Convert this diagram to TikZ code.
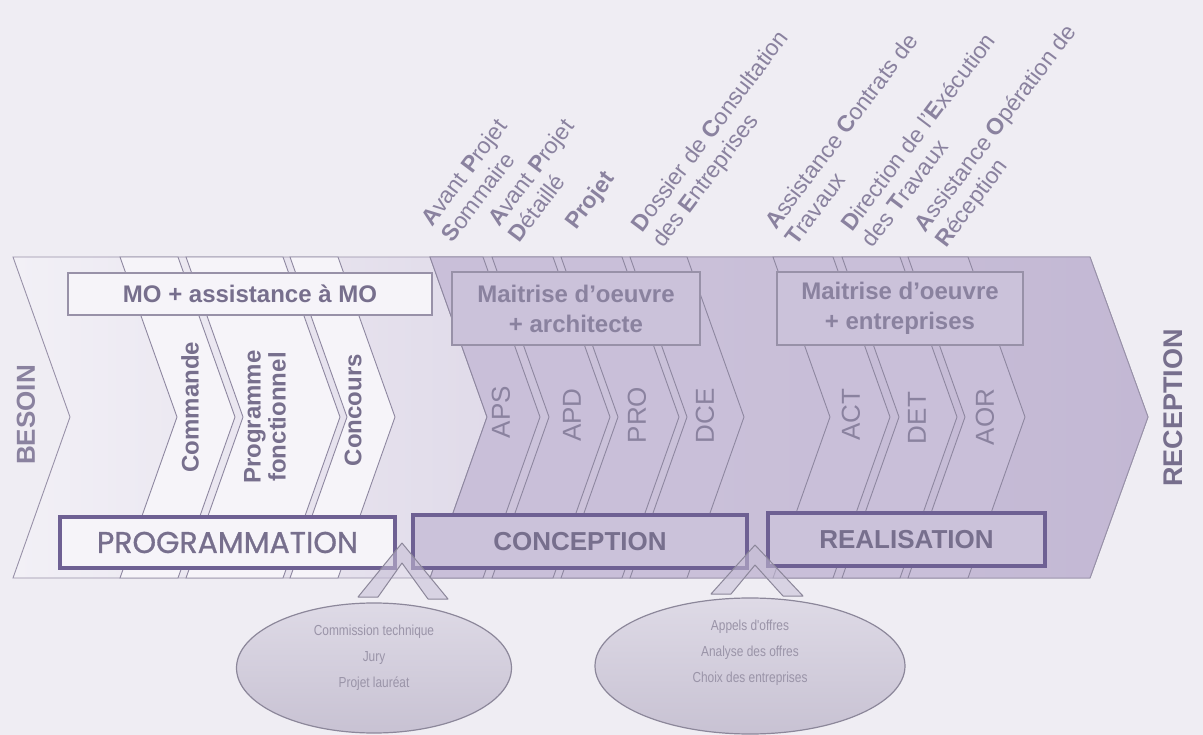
\documentclass[tikz,border=0pt]{standalone}
\usepackage{fontspec}
\setmainfont{Liberation Sans}
\newfontfamily\narrowfont[FakeStretch=0.82]{Liberation Sans}
\newfontfamily\roundfont[FakeBold=0.9]{Poppins}
\usetikzlibrary{shapes.geometric}

\definecolor{bgcol}{HTML}{EFEDF3}
\definecolor{bandpale}{HTML}{F2F0F6}
\definecolor{bandend}{HTML}{C8BED8}
\definecolor{purpA}{HTML}{CEC5DC}
\definecolor{purpB}{HTML}{C3B8D4}
\definecolor{chevpale}{HTML}{F6F4F9}
\definecolor{chevdeep}{HTML}{C9BFD9}
\definecolor{chevline}{HTML}{8E87A0}
\definecolor{boxline}{HTML}{9891A8}
\definecolor{boxdeep}{HTML}{CBC2DA}
\definecolor{phaseline}{HTML}{6E6093}
\definecolor{txtdark}{HTML}{776F8D}
\definecolor{txtlight}{HTML}{8A829F}
\definecolor{bubtop}{HTML}{DEDAE6}
\definecolor{bubbot}{HTML}{C8C2D3}
\definecolor{bubline}{HTML}{8C879A}
\definecolor{bubtxt}{HTML}{9A94A8}
\definecolor{tailfill}{HTML}{C6BED6}

\def\stagechev[#1](#2:#3){\draw[#1] (#2,257) -- (#3,257) -- (#3+57,417) -- (#3,578) -- (#2,578) -- (#2+57,417) -- cycle;}
\def\ini#1{\textbf{#1}}

\tikzset{
	chevpaleband/.style={fill=chevpale, draw=chevline, line width=0.9pt},
	chevdeepband/.style={fill=chevdeep, draw=chevline, line width=0.9pt},
	rolebox/.style={rectangle, draw=boxline, line width=1.2pt, inner sep=0pt, align=center, font=\bfseries\fontsize{24}{30}\selectfont},
	phasebox/.style={rectangle, draw=phaseline, line width=4pt, inner sep=0pt, text=txtdark},
	steplbl/.style={rotate=90, inner sep=0pt, text=txtdark, font=\bfseries\fontsize{24}{25}\selectfont},
	codelbl/.style={rotate=90, inner sep=0pt, text=txtlight, font=\fontsize{26}{28}\selectfont},
	toplbl/.style={rotate=53, anchor=south west, align=left, inner sep=0pt, text=txtlight, font=\fontsize{23}{26}\selectfont},
	bubble/.style={ellipse, draw=bubline, line width=1.2pt, inner sep=0pt, top color=bubtop, bottom color=bubbot},
	bubbletxt/.style={align=center, inner sep=0pt, text=bubtxt, font=\narrowfont\fontsize{14.5}{26}\selectfont},
	tail/.style={fill=tailfill, fill opacity=0.55, draw=bubline, line width=1pt, line join=round}
}

\begin{document}
\begin{tikzpicture}[x=1pt,y=-1pt]
	%%%%% START %%%%%
	\useasboundingbox (0,0) rectangle (1203,735);
	\fill[bgcol] (0,0) rectangle (1203,735);
	
	% band
	\draw[draw=boxline, line width=0.9pt, left color=bandpale, right color=bandend] (13,257) -- (1090,257) -- (1148,417) -- (1090,578) -- (13,578) -- (70,417) -- cycle;
	\draw[draw=boxline, line width=0.9pt, left color=purpA, right color=purpB] (430,257) -- (1090,257) -- (1148,417) -- (1090,578) -- (430,578) -- (487,417) -- cycle;
	
	% stages
	\stagechev[chevpaleband](120:178)
	\stagechev[chevpaleband](186:283)
	\stagechev[chevpaleband](290:338)
	\stagechev[chevdeepband](430:483)
	\stagechev[chevdeepband](492:553)
	\stagechev[chevdeepband](561:622)
	\stagechev[chevdeepband](630:687)
	\stagechev[chevdeepband](773:833)
	\stagechev[chevdeepband](842:900)
	\stagechev[chevdeepband](908:968)
	
	% actors
	\node[rolebox, fill=chevpale, text=txtdark, minimum width=364pt, minimum height=42pt] (mo) at (250,294) {MO + assistance à MO};
	\node[rolebox, fill=boxdeep, text=txtlight, minimum width=248pt, minimum height=73pt] (moearch) at (576,308.5) {Maitrise d'oeuvre\\+ architecte};
	\node[rolebox, fill=boxdeep, text=txtlight, minimum width=246pt, minimum height=73pt] (moeent) at (900,308.5) {Maitrise d'oeuvre\\+ entreprises};
	
	% phases
	\node[phasebox, fill=chevpale, font=\roundfont\fontsize{30}{32}\selectfont, minimum width=335pt, minimum height=51pt] (prog) at (227.5,542.5) {PROGRAMMATION};
	\node[phasebox, fill=boxdeep, font=\bfseries\fontsize{26}{28}\selectfont, minimum width=334pt, minimum height=53pt] (conc) at (580,541.5) {CONCEPTION};
	\node[phasebox, fill=boxdeep, font=\bfseries\fontsize{26}{28}\selectfont, minimum width=277pt, minimum height=53pt] (real) at (906.5,539.5) {REALISATION};
	
	% steps
	\node[steplbl, text=txtlight, font=\bfseries\fontsize{26}{28}\selectfont] (besoin) at (26,415) {BESOIN};
	\node[steplbl] (cmd) at (190,407) {Commande};
	\node[steplbl, align=center] (progf) at (265,417) {Programme\\fonctionnel};
	\node[steplbl] (concours) at (353,410) {Concours};
	\node[codelbl] (aps) at (501,412) {APS};
	\node[codelbl] (apd) at (572,415) {APD};
	\node[codelbl] (pro) at (637,415) {PRO};
	\node[codelbl] (dce) at (705,416) {DCE};
	\node[codelbl] (act) at (851,415) {ACT};
	\node[codelbl] (det) at (917,418) {DET};
	\node[codelbl] (aor) at (985,417) {AOR};
	\node[steplbl, font=\bfseries\fontsize{27}{28}\selectfont] (recep) at (1173,408) {RECEPTION};
	
	% acronyms
	\node[toplbl] (lblaps) at (453,244) {\ini{A}vant \ini{P}rojet\\\ini{S}ommaire};
	\node[toplbl] (lblapd) at (520,244) {\ini{A}vant \ini{P}rojet\\\ini{D}étaillé};
	\node[toplbl] (lblpro) at (580,234) {\ini{Projet}};
	\node[toplbl] (lbldce) at (667,252) {\ini{D}ossier de \ini{C}onsultation\\des \ini{E}ntreprises};
	\node[toplbl] (lblact) at (797,247) {\ini{A}ssistance \ini{C}ontrats de\\\ini{T}ravaux};
	\node[toplbl] (lbldet) at (873,249) {\ini{D}irection de l'\ini{E}xécution\\des \ini{T}ravaux};
	\node[toplbl] (lblaor) at (950,252) {\ini{A}ssistance \ini{O}pération de\\\ini{R}éception};
	
	% callouts
	\draw[tail] (358,597) -- (402,543) -- (448,599) -- (428,599) -- (402,563) -- (378,597) -- cycle;
	\node[bubble, minimum width=275pt, minimum height=130pt] (bubjury) at (374,668) {};
	\node[bubbletxt] (txtjury) at (374,658) {Commission technique\\Jury\\Projet lauréat};
	
	\draw[tail] (711,594) -- (755,545) -- (803,596) -- (783,596) -- (755,565) -- (731,594) -- cycle;
	\node[bubble, minimum width=310pt, minimum height=136pt] (buboffre) at (750,666) {};
	\node[bubbletxt] (txtoffre) at (750,653) {Appels d'offres\\Analyse des offres\\Choix des entreprises};
	
	%%%%% END %%%%%
\end{tikzpicture}
\end{document}
